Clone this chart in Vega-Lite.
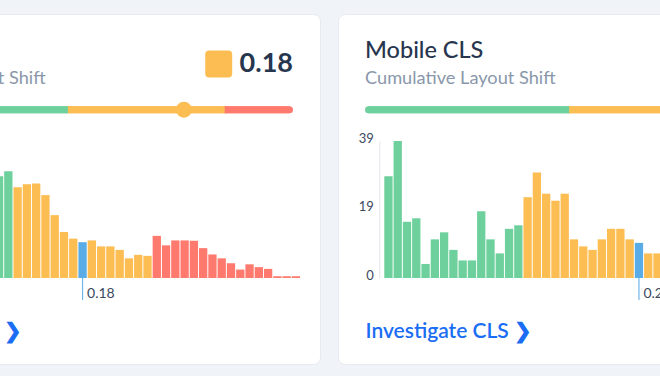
{
  "$schema": "https://vega.github.io/schema/vega-lite/v6.json",
  "background": "#f0f3f7",
  "padding": {"left": -173, "right": -170, "top": 13, "bottom": 13},
  "spacing": 16,
  "config": {
    "font": "Lato",
    "view": {"fill": "white", "stroke": "#e6e9ef", "cornerRadius": 7},
    "title": {"anchor": "start", "frame": "group", "offset": -73, "dx": 27, "fontSize": 23.5, "fontWeight": 500, "color": "#27364e", "subtitleFontSize": 18.2, "subtitleColor": "#8a97aa", "subtitlePadding": 7.5, "subtitleFont": "Lato"}
  },
  "hconcat": [
    {
      "width": 492,
      "height": 350,
      "title": {"text": "Desktop CLS", "subtitle": "Cumulative Layout Shift"},
      "layer": [
        {
          "data": {"values": [
            {"bin": 13, "n": 29.0, "rating": "good"}, {"bin": 14, "n": 30.4, "rating": "good"},
            {"bin": 15, "n": 25.8, "rating": "ni"}, {"bin": 16, "n": 26.7, "rating": "ni"}, {"bin": 17, "n": 26.9, "rating": "ni"},
            {"bin": 18, "n": 23.6, "rating": "ni"}, {"bin": 19, "n": 17.9, "rating": "ni"}, {"bin": 20, "n": 13.1, "rating": "ni"},
            {"bin": 21, "n": 11.2, "rating": "ni"}, {"bin": 22, "n": 10.2, "rating": "current"}, {"bin": 23, "n": 10.7, "rating": "ni"},
            {"bin": 24, "n": 9.0, "rating": "ni"}, {"bin": 25, "n": 9.0, "rating": "ni"}, {"bin": 26, "n": 8.0, "rating": "ni"},
            {"bin": 27, "n": 5.6, "rating": "ni"}, {"bin": 28, "n": 6.6, "rating": "ni"}, {"bin": 29, "n": 6.3, "rating": "ni"},
            {"bin": 30, "n": 12.0, "rating": "poor"}, {"bin": 31, "n": 9.3, "rating": "poor"}, {"bin": 32, "n": 10.7, "rating": "poor"},
            {"bin": 33, "n": 10.7, "rating": "poor"}, {"bin": 34, "n": 10.6, "rating": "poor"}, {"bin": 35, "n": 8.5, "rating": "poor"},
            {"bin": 36, "n": 6.7, "rating": "poor"}, {"bin": 37, "n": 5.6, "rating": "poor"}, {"bin": 38, "n": 4.2, "rating": "poor"},
            {"bin": 39, "n": 2.4, "rating": "poor"}, {"bin": 40, "n": 3.9, "rating": "poor"}, {"bin": 41, "n": 3.1, "rating": "poor"},
            {"bin": 42, "n": 2.6, "rating": "poor"}, {"bin": 43, "n": 0.5, "rating": "poor"}, {"bin": 44, "n": 0.5, "rating": "poor"},
            {"bin": 45, "n": 0.5, "rating": "poor"}
          ]},
          "encoding": {
            "x": {"field": "bin", "type": "quantitative",
              "scale": {"domain": [0, 45], "range": [45.45, 472.95], "nice": false, "zero": false},
              "axis": {"domain": false, "ticks": false, "labels": false, "grid": false, "title": "Investigate CLS\u00a0❯", "titleX": 27, "titleY": -27, "titleAlign": "left", "titleAnchor": null, "titleBaseline": "alphabetic", "titleFontSize": 21, "titleFontWeight": 600, "titleColor": "#1b6ef3"}}
          },
          "layer": [
            {
              "data": {"values": [{"bin": 22, "p75": "0.18"}]},
              "mark": {"type": "tick", "orient": "vertical", "size": 44, "thickness": 1.2, "color": "#6fb6e9", "opacity": 1},
              "encoding": {"y": {"datum": 0, "type": "quantitative"}}
            },
            {
              "mark": {"type": "bar", "width": 8.3, "opacity": 1},
              "encoding": {
                "y": {"field": "n", "type": "quantitative", "stack": null,
                  "scale": {"domain": [0, 39], "range": [264, 127], "nice": false},
                  "axis": {"offset": -41.3, "labels": false, "ticks": false, "grid": false, "title": null, "domainColor": "#e3e6eb"}},
                "color": {"field": "rating", "type": "nominal", "legend": null,
                  "scale": {"domain": ["good", "ni", "poor", "current"], "range": ["#6ed09c", "#fcbd52", "#ff7a6e", "#5aace6"]}}
              }
            },
            {
              "data": {"values": [{"bin": 22, "p75": "0.18"}]},
              "mark": {"type": "text", "align": "left", "baseline": "middle", "dx": 4.5, "dy": 16, "fontSize": 14, "color": "#3a4860"},
              "encoding": {"y": {"datum": 0, "type": "quantitative"}, "text": {"field": "p75"}}
            }
          ]
        },
        {
          "layer": [
            {
              "data": {"values": [{"rating": "good", "from": 0, "to": 48.6}, {"rating": "ni", "from": 48.6, "to": 85.0}, {"rating": "poor", "from": 85.0, "to": 100}]},
              "layer": [
                {"mark": {"type": "rule", "strokeWidth": 7, "strokeCap": "round"}},
                {"mark": {"type": "rule", "strokeWidth": 7, "strokeCap": "butt"}}
              ],
              "encoding": {
                "x": {"field": "from", "type": "quantitative", "scale": {"domain": [0, 100], "range": [30.5, 461.5], "nice": false}, "axis": null},
                "x2": {"field": "to"},
                "y": {"datum": "bar", "type": "nominal", "scale": {"type": "point", "domain": ["score", "bar"], "range": [50, 95.7], "padding": 0}, "axis": null},
                "color": {"field": "rating", "type": "nominal", "legend": null,
                  "scale": {"domain": ["good", "ni", "poor", "current"], "range": ["#6ed09c", "#fcbd52", "#ff7a6e", "#5aace6"]}}
              }
            },
            {
              "data": {"values": [{"p": 75.5, "rating": "ni"}]},
              "mark": {"type": "point", "shape": "circle", "filled": true, "size": 256, "opacity": 1},
              "encoding": {
                "x": {"field": "p", "type": "quantitative"},
                "y": {"datum": "bar", "type": "nominal"},
                "color": {"field": "rating", "type": "nominal", "legend": null}
              }
            },
            {
              "data": {"values": [{"score": "0.18", "rating": "ni"}]},
              "layer": [
                {
                  "mark": {"type": "text", "align": "right", "baseline": "middle", "dx": 3.5, "fontSize": 27, "fontWeight": "bold", "color": "#26364f"},
                  "encoding": {"x": {"datum": 100, "type": "quantitative"}, "y": {"datum": "score", "type": "nominal"}, "text": {"field": "score"}}
                },
                {
                  "mark": {"type": "point", "shape": "M -1 -0.7 Q -1 -1 -0.7 -1 L 0.7 -1 Q 1 -1 1 -0.7 L 1 0.7 Q 1 1 0.7 1 L -0.7 1 Q -1 1 -1 0.7 Z", "filled": true, "size": 729, "opacity": 1, "xOffset": -70.8},
                  "encoding": {"x": {"datum": 100, "type": "quantitative"}, "y": {"datum": "score", "type": "nominal"}, "color": {"field": "rating", "type": "nominal", "legend": null}}
                }
              ]
            }
          ]
        }
      ],
      "resolve": {"scale": {"x": "independent", "y": "independent"}}
    },
    {
      "width": 492,
      "height": 350,
      "title": {"text": "Mobile CLS", "subtitle": "Cumulative Layout Shift"},
      "layer": [
        {
          "data": {"values": [
            {"bin": 0, "n": 29, "rating": "good"}, {"bin": 1, "n": 39, "rating": "good"}, {"bin": 2, "n": 16, "rating": "good"},
            {"bin": 3, "n": 17, "rating": "good"}, {"bin": 4, "n": 4, "rating": "good"}, {"bin": 5, "n": 11, "rating": "good"},
            {"bin": 6, "n": 13, "rating": "good"}, {"bin": 7, "n": 8, "rating": "good"}, {"bin": 8, "n": 5, "rating": "good"},
            {"bin": 9, "n": 5, "rating": "good"}, {"bin": 10, "n": 19, "rating": "good"}, {"bin": 11, "n": 11, "rating": "good"},
            {"bin": 12, "n": 7, "rating": "good"}, {"bin": 13, "n": 14, "rating": "good"}, {"bin": 14, "n": 15, "rating": "good"},
            {"bin": 15, "n": 23, "rating": "ni"}, {"bin": 16, "n": 30, "rating": "ni"}, {"bin": 17, "n": 24, "rating": "ni"},
            {"bin": 18, "n": 22, "rating": "ni"}, {"bin": 19, "n": 24, "rating": "ni"}, {"bin": 20, "n": 11, "rating": "ni"},
            {"bin": 21, "n": 9, "rating": "ni"}, {"bin": 22, "n": 8, "rating": "ni"}, {"bin": 23, "n": 11, "rating": "ni"},
            {"bin": 24, "n": 14, "rating": "ni"}, {"bin": 25, "n": 14, "rating": "ni"}, {"bin": 26, "n": 11, "rating": "ni"},
            {"bin": 27, "n": 10, "rating": "current"}, {"bin": 28, "n": 7, "rating": "ni"}, {"bin": 29, "n": 7, "rating": "ni"}
          ]},
          "encoding": {
            "x": {"field": "bin", "type": "quantitative",
              "scale": {"domain": [0, 45], "range": [45.45, 472.95], "nice": false, "zero": false},
              "axis": {"domain": false, "ticks": false, "labels": false, "grid": false, "title": "Investigate CLS\u00a0❯", "titleX": 27, "titleY": -27, "titleAlign": "left", "titleAnchor": null, "titleBaseline": "alphabetic", "titleFontSize": 21, "titleFontWeight": 600, "titleColor": "#1b6ef3"}}
          },
          "layer": [
            {
              "data": {"values": [{"bin": 27, "p75": "0.21"}]},
              "mark": {"type": "tick", "orient": "vertical", "size": 44, "thickness": 1.2, "color": "#6fb6e9", "opacity": 1},
              "encoding": {"y": {"datum": 0, "type": "quantitative"}}
            },
            {
              "mark": {"type": "bar", "width": 8.3, "opacity": 1},
              "encoding": {
                "y": {"field": "n", "type": "quantitative", "stack": null,
                  "scale": {"domain": [0, 39], "range": [264, 127], "nice": false},
                  "axis": {"values": [0, 19.5, 39], "labelExpr": "floor(datum.value)", "offset": -41.3, "ticks": false, "grid": false, "title": null, "domainColor": "#e3e6eb", "labelFontSize": 13, "labelColor": "#3c4a5e", "labelPadding": 6, "labelFlush": false, "labelOffset": -3}},
                "color": {"field": "rating", "type": "nominal", "legend": null,
                  "scale": {"domain": ["good", "ni", "poor", "current"], "range": ["#6ed09c", "#fcbd52", "#ff7a6e", "#5aace6"]}}
              }
            },
            {
              "data": {"values": [{"bin": 27, "p75": "0.21"}]},
              "mark": {"type": "text", "align": "left", "baseline": "middle", "dx": 4.5, "dy": 16, "fontSize": 14, "color": "#3a4860"},
              "encoding": {"y": {"datum": 0, "type": "quantitative"}, "text": {"field": "p75"}}
            }
          ]
        },
        {
          "layer": [
            {
              "data": {"values": [{"rating": "good", "from": 0, "to": 46.6}, {"rating": "ni", "from": 46.6, "to": 88.0}, {"rating": "poor", "from": 88.0, "to": 100}]},
              "layer": [
                {"mark": {"type": "rule", "strokeWidth": 7, "strokeCap": "round"}},
                {"mark": {"type": "rule", "strokeWidth": 7, "strokeCap": "butt"}}
              ],
              "encoding": {
                "x": {"field": "from", "type": "quantitative", "scale": {"domain": [0, 100], "range": [30.5, 461.5], "nice": false}, "axis": null},
                "x2": {"field": "to"},
                "y": {"datum": "bar", "type": "nominal", "scale": {"type": "point", "domain": ["score", "bar"], "range": [50, 95.7], "padding": 0}, "axis": null},
                "color": {"field": "rating", "type": "nominal", "legend": null,
                  "scale": {"domain": ["good", "ni", "poor", "current"], "range": ["#6ed09c", "#fcbd52", "#ff7a6e", "#5aace6"]}}
              }
            }
          ]
        }
      ],
      "resolve": {"scale": {"x": "independent", "y": "independent"}}
    }
  ]
}
